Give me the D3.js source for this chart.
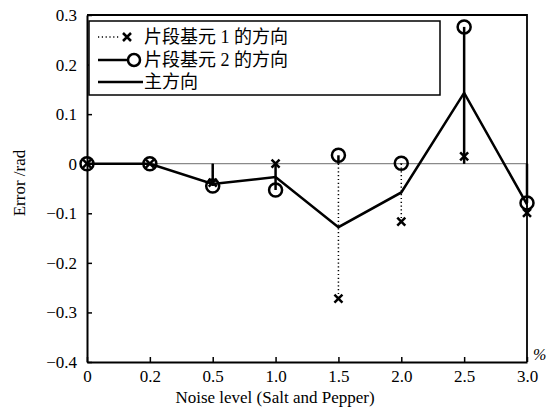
<!DOCTYPE html>
<html>
<meta charset="utf-8">
<head>
	<title>noise error</title>
	<script src="https://cdn.jsdelivr.net/npm/d3@7/dist/d3.min.js" charset="utf-8"></script>
	<style>
		body { margin: 0; background: #fff; }
		svg, svg text { font-family: "Liberation Serif", "DejaVu Serif", "Noto Sans CJK SC", serif; }
	</style>
</head>
<body>
	<script type="text/javascript">
	var noise = ["0", "0.2", "0.5", "1.0", "1.5", "2.0", "2.5", "3.0"];
	var prim1 = [0, 0, -0.038, 0, -0.272, -0.117, 0.015, -0.099];
	var prim2 = [0, 0, -0.045, -0.053, 0.017, 0.001, 0.276, -0.079];
	var mainDir = [0, 0, -0.041, -0.027, -0.128, -0.058, 0.143, -0.082];
	var yTicks = [0.3, 0.2, 0.1, 0, -0.1, -0.2, -0.3, -0.4];
	var legendNames = ["片段基元 1 的方向", "片段基元 2 的方向", "主方向"];

	var serif = '"Liberation Serif", "DejaVu Serif", "Noto Sans CJK SC", serif';
	var margin = {top: 15, right: 20, bottom: 52, left: 87},
		width = 547 - margin.left - margin.right,
		height = 414 - margin.top - margin.bottom;

	var svg = d3.select('body').append('svg')
		.attr("width", 547)
		.attr("height", 414)
		.attr("font-family", serif);
	var g = svg.append("g")
		.attr("transform", "translate(" + margin.left + "," + margin.top + ")");

	var x = d3.scalePoint().domain(noise).range([0, width]);
	var y = d3.scaleLinear().domain([-0.4, 0.3]).range([height, 0]);

	// zero line
	g.append("line")
		.attr("x1", 0).attr("x2", width)
		.attr("y1", y(0)).attr("y2", y(0))
		.attr("stroke", "#8a8a8a").attr("stroke-width", 1.2);

	// frame (top + right)
	g.append("path")
		.attr("d", "M0,0H" + width + "V" + height)
		.attr("fill", "none").attr("stroke", "#000").attr("stroke-width", 1.8);

	var fmt = d3.format(".1f");
	var yAxis = g.append("g")
		.call(d3.axisLeft(y).tickValues(yTicks).tickFormat(d => d === 0 ? "0" : fmt(d))
			.tickSizeInner(-5).tickSizeOuter(0).tickPadding(10));
	var xAxis = g.append("g")
		.attr("transform", "translate(0," + height + ")")
		.call(d3.axisBottom(x).tickSizeInner(-5).tickSizeOuter(0).tickPadding(8));
	[yAxis, xAxis].forEach(function(a) {
		a.attr("font-family", serif).attr("font-size", 17);
		a.select(".domain").attr("stroke-width", 2);
		a.selectAll(".tick line").attr("stroke-width", 1.5);
	});

	// stems series 1 (dotted)
	g.selectAll(".stem1").data(prim1).enter().append("line")
		.attr("x1", (d, i) => x(noise[i])).attr("x2", (d, i) => x(noise[i]))
		.attr("y1", y(0)).attr("y2", d => y(d))
		.attr("stroke", "#000").attr("stroke-width", 1.5).attr("stroke-dasharray", "1.2,2.6");
	// stems series 2 (solid)
	g.selectAll(".stem2").data(prim2).enter().append("line")
		.attr("x1", (d, i) => x(noise[i])).attr("x2", (d, i) => x(noise[i]))
		.attr("y1", y(0)).attr("y2", d => y(d))
		.attr("stroke", "#000").attr("stroke-width", 2.5);

	// main direction
	var line = d3.line().x((d, i) => x(noise[i])).y(d => y(d));
	g.append("path").datum(mainDir)
		.attr("d", line)
		.attr("fill", "none").attr("stroke", "#000").attr("stroke-width", 2.5);

	// markers
	g.selectAll(".circ").data(prim2).enter().append("circle")
		.attr("cx", (d, i) => x(noise[i])).attr("cy", d => y(d)).attr("r", 6.5)
		.attr("fill", "none").attr("stroke", "#000").attr("stroke-width", 2.5);
	var cr = 4;
	var crossPath = "M" + -cr + "," + -cr + "L" + cr + "," + cr + "M" + cr + "," + -cr + "L" + -cr + "," + cr;
	g.selectAll(".cross").data(prim1).enter().append("path")
		.attr("transform", (d, i) => "translate(" + x(noise[i]) + "," + y(d) + ")")
		.attr("d", crossPath)
		.attr("stroke", "#000").attr("stroke-width", 2.5);

	// legend
	var lg = svg.append("g");
	lg.append("rect")
		.attr("x", 89).attr("y", 21).attr("width", 351).attr("height", 74)
		.attr("fill", "#fff").attr("stroke", "#000").attr("stroke-width", 1.5);
	var rowY = [37, 60, 82];
	lg.append("line").attr("x1", 98).attr("x2", 120).attr("y1", rowY[0]).attr("y2", rowY[0])
		.attr("stroke", "#000").attr("stroke-width", 1.5).attr("stroke-dasharray", "1.2,2.6");
	lg.append("path")
		.attr("transform", "translate(127," + rowY[0] + ")")
		.attr("d", crossPath)
		.attr("stroke", "#000").attr("stroke-width", 2.5);
	lg.append("line").attr("x1", 98).attr("x2", 128).attr("y1", rowY[1]).attr("y2", rowY[1])
		.attr("stroke", "#000").attr("stroke-width", 2.5);
	lg.append("circle").attr("cx", 134).attr("cy", rowY[1]).attr("r", 6)
		.attr("fill", "none").attr("stroke", "#000").attr("stroke-width", 2.5);
	lg.append("line").attr("x1", 98).attr("x2", 143).attr("y1", rowY[2]).attr("y2", rowY[2])
		.attr("stroke", "#000").attr("stroke-width", 2.5);
	lg.selectAll(".ltxt").data(legendNames).enter().append("text")
		.attr("x", 144).attr("y", (d, i) => rowY[i] + 6)
		.attr("font-size", 18)
		.text(d => d);

	// axis titles
	svg.append("text")
		.attr("x", 275).attr("y", 403).attr("text-anchor", "middle")
		.attr("font-size", 17).text("Noise level (Salt and Pepper)");
	svg.append("text")
		.attr("transform", "translate(25,183) rotate(-90)").attr("text-anchor", "middle")
		.attr("font-size", 17).text("Error /rad");
	svg.append("text")
		.attr("x", 533).attr("y", 360).attr("font-size", 16).attr("font-style", "italic").text("%");
	</script>
</body>
</html>
